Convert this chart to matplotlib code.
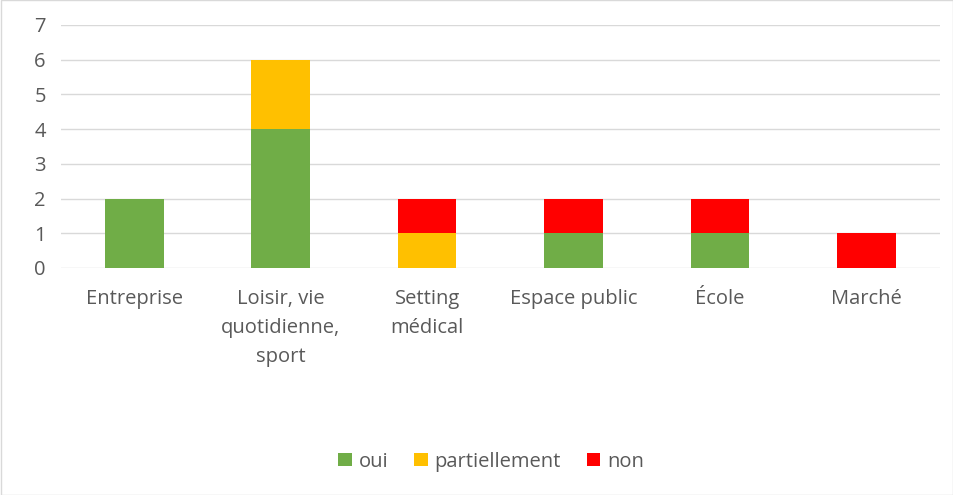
import matplotlib
matplotlib.use("Agg")
from matplotlib import pyplot as plt
from matplotlib.patches import Rectangle
import numpy as np

categories = ["Entreprise", "Loisir, vie\nquotidienne,\nsport", "Setting\nmédical",
              "Espace public", "École", "Marché"]
oui = [2, 4, 0, 1, 1, 0]
partiellement = [0, 2, 1, 0, 0, 0]
non = [0, 0, 1, 1, 1, 1]
series_names = ["oui", "partiellement", "non"]
colors = ["#70AD47", "#FFC000", "#FF0000"]

plt.rcParams['font.family'] = ['Open Sans', 'DejaVu Sans']
txt = "#595959"

fig = plt.figure(figsize=(9.54, 4.95), dpi=100)
ax = fig.add_axes([0.064, 0.4586, 0.921, 0.491])

x = np.arange(len(categories))
bottom = np.zeros(len(categories))
for name, vals, col in zip(series_names, [oui, partiellement, non], colors):
    ax.bar(x, vals, 0.4, bottom=bottom, color=col, label=name, zorder=3)
    bottom += np.array(vals)

ax.set_xlim(-0.5, len(categories) - 0.5)
ax.set_ylim(0, 7)
ax.set_yticks(range(0, 8))
ax.set_xticks(x)
ax.set_xticklabels(categories, linespacing=1.6)
ax.tick_params(axis='both', length=0, labelsize=14.5, colors=txt)
ax.tick_params(axis='x', pad=15)
ax.tick_params(axis='y', pad=11)
ax.grid(axis='y', color="#D9D9D9", linewidth=1, zorder=0)
for s in ax.spines.values():
    s.set_visible(False)

fig.legend(loc='center', bbox_to_anchor=(0.515, 0.067), ncol=3, frameon=False,
           fontsize=14.5, labelcolor=txt, handlelength=0.65, handleheight=0.65,
           handletextpad=0.35, columnspacing=1.3)

fig.add_artist(Rectangle((0.001, 0.001), 0.998, 0.998, transform=fig.transFigure,
                         fill=False, edgecolor="#D9D9D9", linewidth=1))

plt.savefig("out.png", dpi=100)
